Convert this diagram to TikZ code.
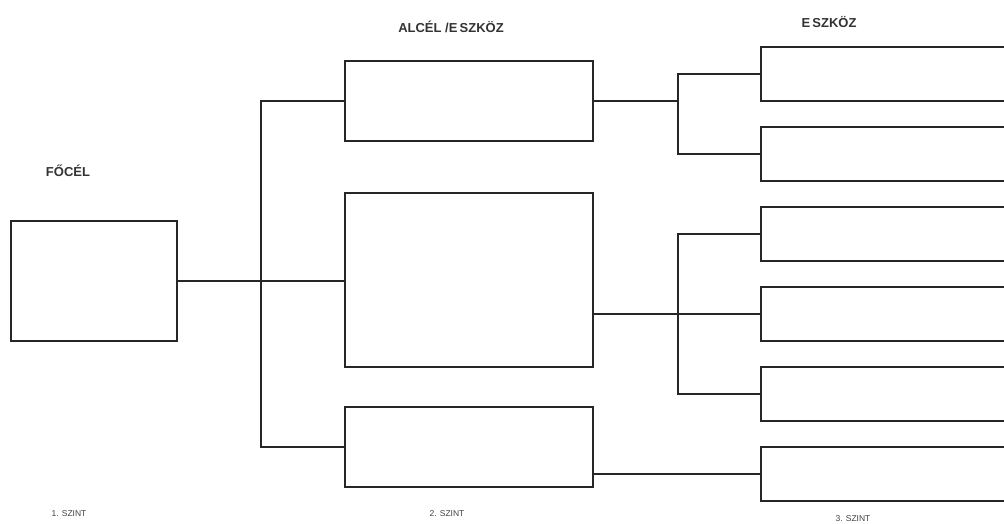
\documentclass[tikz,border=0pt]{standalone}
\usepackage{fontspec}
\setmainfont{Liberation Sans}
\begin{document}
\begin{tikzpicture}[x=1pt,y=-1pt,
  box/.style={draw=black!85,line width=1.4pt,minimum width=#1,inner sep=0pt,outer sep=0pt,rectangle},
  conn/.style={draw=black!85,line width=1.4pt},
  head/.style={text=black!80,font=\fontsize{13}{15}\selectfont\bfseries,inner sep=0pt},
  lvl/.style={text=black!75,font=\fontsize{8.5}{10}\selectfont,inner sep=0pt}]
\useasboundingbox (0,0) rectangle (1004,523);
\clip (0,0) rectangle (1004,523);
% level 1
\node[box=166pt,minimum height=120pt] (main) at (94,281) {};
% level 2
\node[box=248pt,minimum height=80pt] (a) at (469,101) {};
\node[box=248pt,minimum height=174pt] (b) at (469,280) {};
\node[box=248pt,minimum height=80pt] (c) at (469,447) {};
% level 3
\node[box=252pt,minimum height=54pt] (d1) at (887,74) {};
\node[box=252pt,minimum height=54pt] (d2) at (887,154) {};
\node[box=252pt,minimum height=54pt] (d3) at (887,234) {};
\node[box=252pt,minimum height=54pt] (d4) at (887,314) {};
\node[box=252pt,minimum height=54pt] (d5) at (887,394) {};
\node[box=252pt,minimum height=54pt] (d6) at (887,474) {};
% junctions
\coordinate (j1) at (261,281);
\coordinate (j2) at (678,101);
\coordinate (j3) at (678,314);
% connectors
\draw[conn] (main.east) -- (b.west |- j1);
\draw[conn] (a.west) -| (j1) |- (c.west);
\draw[conn] (a.east) -- (j2);
\draw[conn] (d1.west) -| (j2) |- (d2.west);
\draw[conn] (b.east |- d4.west) -- (d4.west);
\draw[conn] (d3.west) -| (j3) |- (d5.west);
\draw[conn] (c.east |- d6.west) -- (d6.west);
% labels
\node[head] (t1) at (68,171) {FŐCÉL};
\node[head] (t2) at (451,27) {ALCÉL /E\,SZKÖZ};
\node[head] (t3) at (829,22) {E\,SZKÖZ};
\node[lvl] (s1) at (69,514) {1. SZINT};
\node[lvl] (s2) at (447,514) {2. SZINT};
\node[lvl] (s3) at (853,519) {3. SZINT};
\end{tikzpicture}
\end{document}
